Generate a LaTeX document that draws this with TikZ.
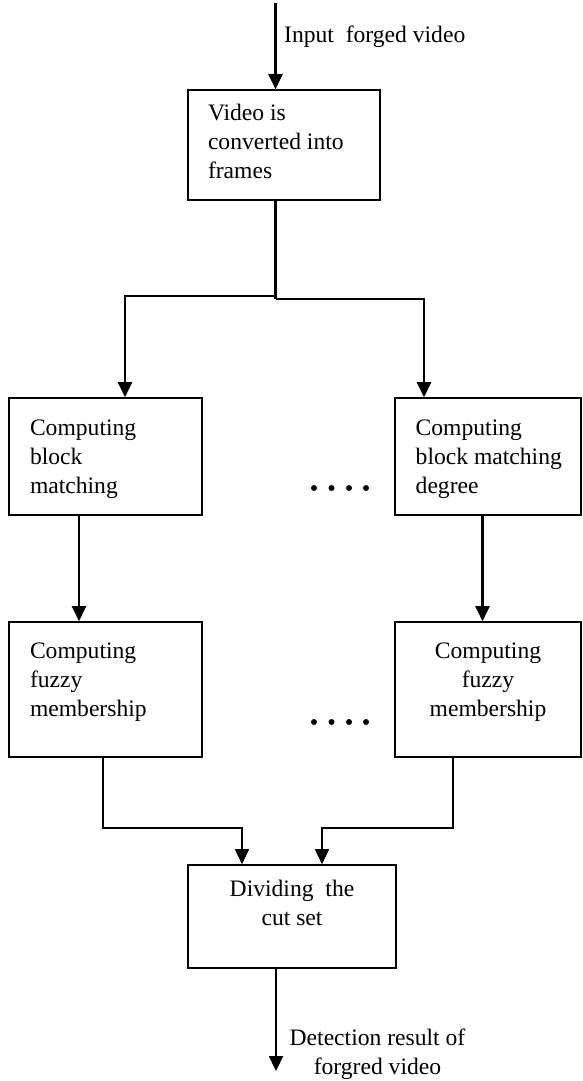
\documentclass[tikz,border=0pt]{standalone}
\usepackage{fontspec}
\setmainfont{Liberation Serif}
\usetikzlibrary{arrows.meta}
\newcommand\lefttext[3]{\raisebox{#1}[\height][\depth]{\makebox[#2][l]{\begin{tabular}{@{}l@{}}#3\end{tabular}}}}
\newcommand\midtext[2]{\raisebox{#1}[\height][\depth]{\begin{tabular}{@{}c@{}}#2\end{tabular}}}
\tikzset{
  x=1pt, y=-1pt,
  txt/.style={font=\fontsize{23.6}{29}\selectfont},
  box/.style={draw, line width=1.6pt, inner sep=0pt, txt},
  lbl/.style={inner sep=0pt, txt},
  arr/.style={line width=2.2pt, -{Triangle[length=15pt,width=14pt]}},
  ln/.style={line width=2.2pt},
  thinarr/.style={line width=1.5pt, -{Triangle[length=15pt,width=14pt]}},
}
\begin{document}
\begin{tikzpicture}
\useasboundingbox (0,0) rectangle (582,1081);
\node[box, minimum width=192pt, minimum height=110pt] (video) at (284,145)
  {\lefttext{1pt}{152pt}{Video is\\converted into\\frames}};
\node[box, minimum width=193pt, minimum height=117pt] (cbm1) at (105.5,456.5)
  {\lefttext{-2pt}{151pt}{Computing\\block\\matching}};
\node[box, minimum width=186pt, minimum height=117pt] (cbm2) at (488,456.5)
  {\lefttext{-2pt}{144.6pt}{Computing\\block matching\\degree}};
\node[box, minimum width=193pt, minimum height=135pt] (cfm1) at (105.5,689.5)
  {\lefttext{8pt}{151pt}{Computing\\fuzzy\\membership}};
\node[box, minimum width=186pt, minimum height=135pt] (cfm2) at (488,689.5)
  {\midtext{8pt}{Computing\\fuzzy\\membership}};
\node[box, minimum width=208pt, minimum height=103pt] (div) at (292,916.5)
  {\midtext{11.5pt}{Dividing\ \ the\\cut set}};

\coordinate (in) at (275.5,3);
\coordinate (split) at (275.5,296);
\coordinate (out) at (276,1071);

\draw[arr] (in) -- (in |- video.north);
\node[lbl, anchor=west] (inlbl) at (284,36.5) {Input\ \ forged video};

\draw[ln] (video.south -| in) -- (275.5,299);
\draw[arr] (275.5,299) -| ([xshift=-64pt]cbm2.north);
\draw[arr] (split) -| ([xshift=19.5pt]cbm1.north);

\draw[arr] ([xshift=-26.5pt]cbm1.south) -- ([xshift=-26.5pt]cfm1.north);
\draw[arr] ([xshift=-5.5pt]cbm2.south) -- ([xshift=-5.5pt]cfm2.north);

\draw[thinarr] ([xshift=-2.5pt]cfm1.south) -- ++(0,70) -| ([xshift=-50pt]div.north);
\draw[thinarr] ([xshift=-35pt]cfm2.south) -- ++(0,70) -| ([xshift=30pt]div.north);

\draw[arr] ([xshift=-16pt]div.south) -- (out);
\node[lbl, align=center] (outlbl) at (377.5,1054) {Detection result of\\forgred video};

\foreach \x in {314,331.5,349,366}{
  \fill (\x,488) circle (3pt);
  \fill (\x,722) circle (3pt);
}
\end{tikzpicture}
\end{document}
